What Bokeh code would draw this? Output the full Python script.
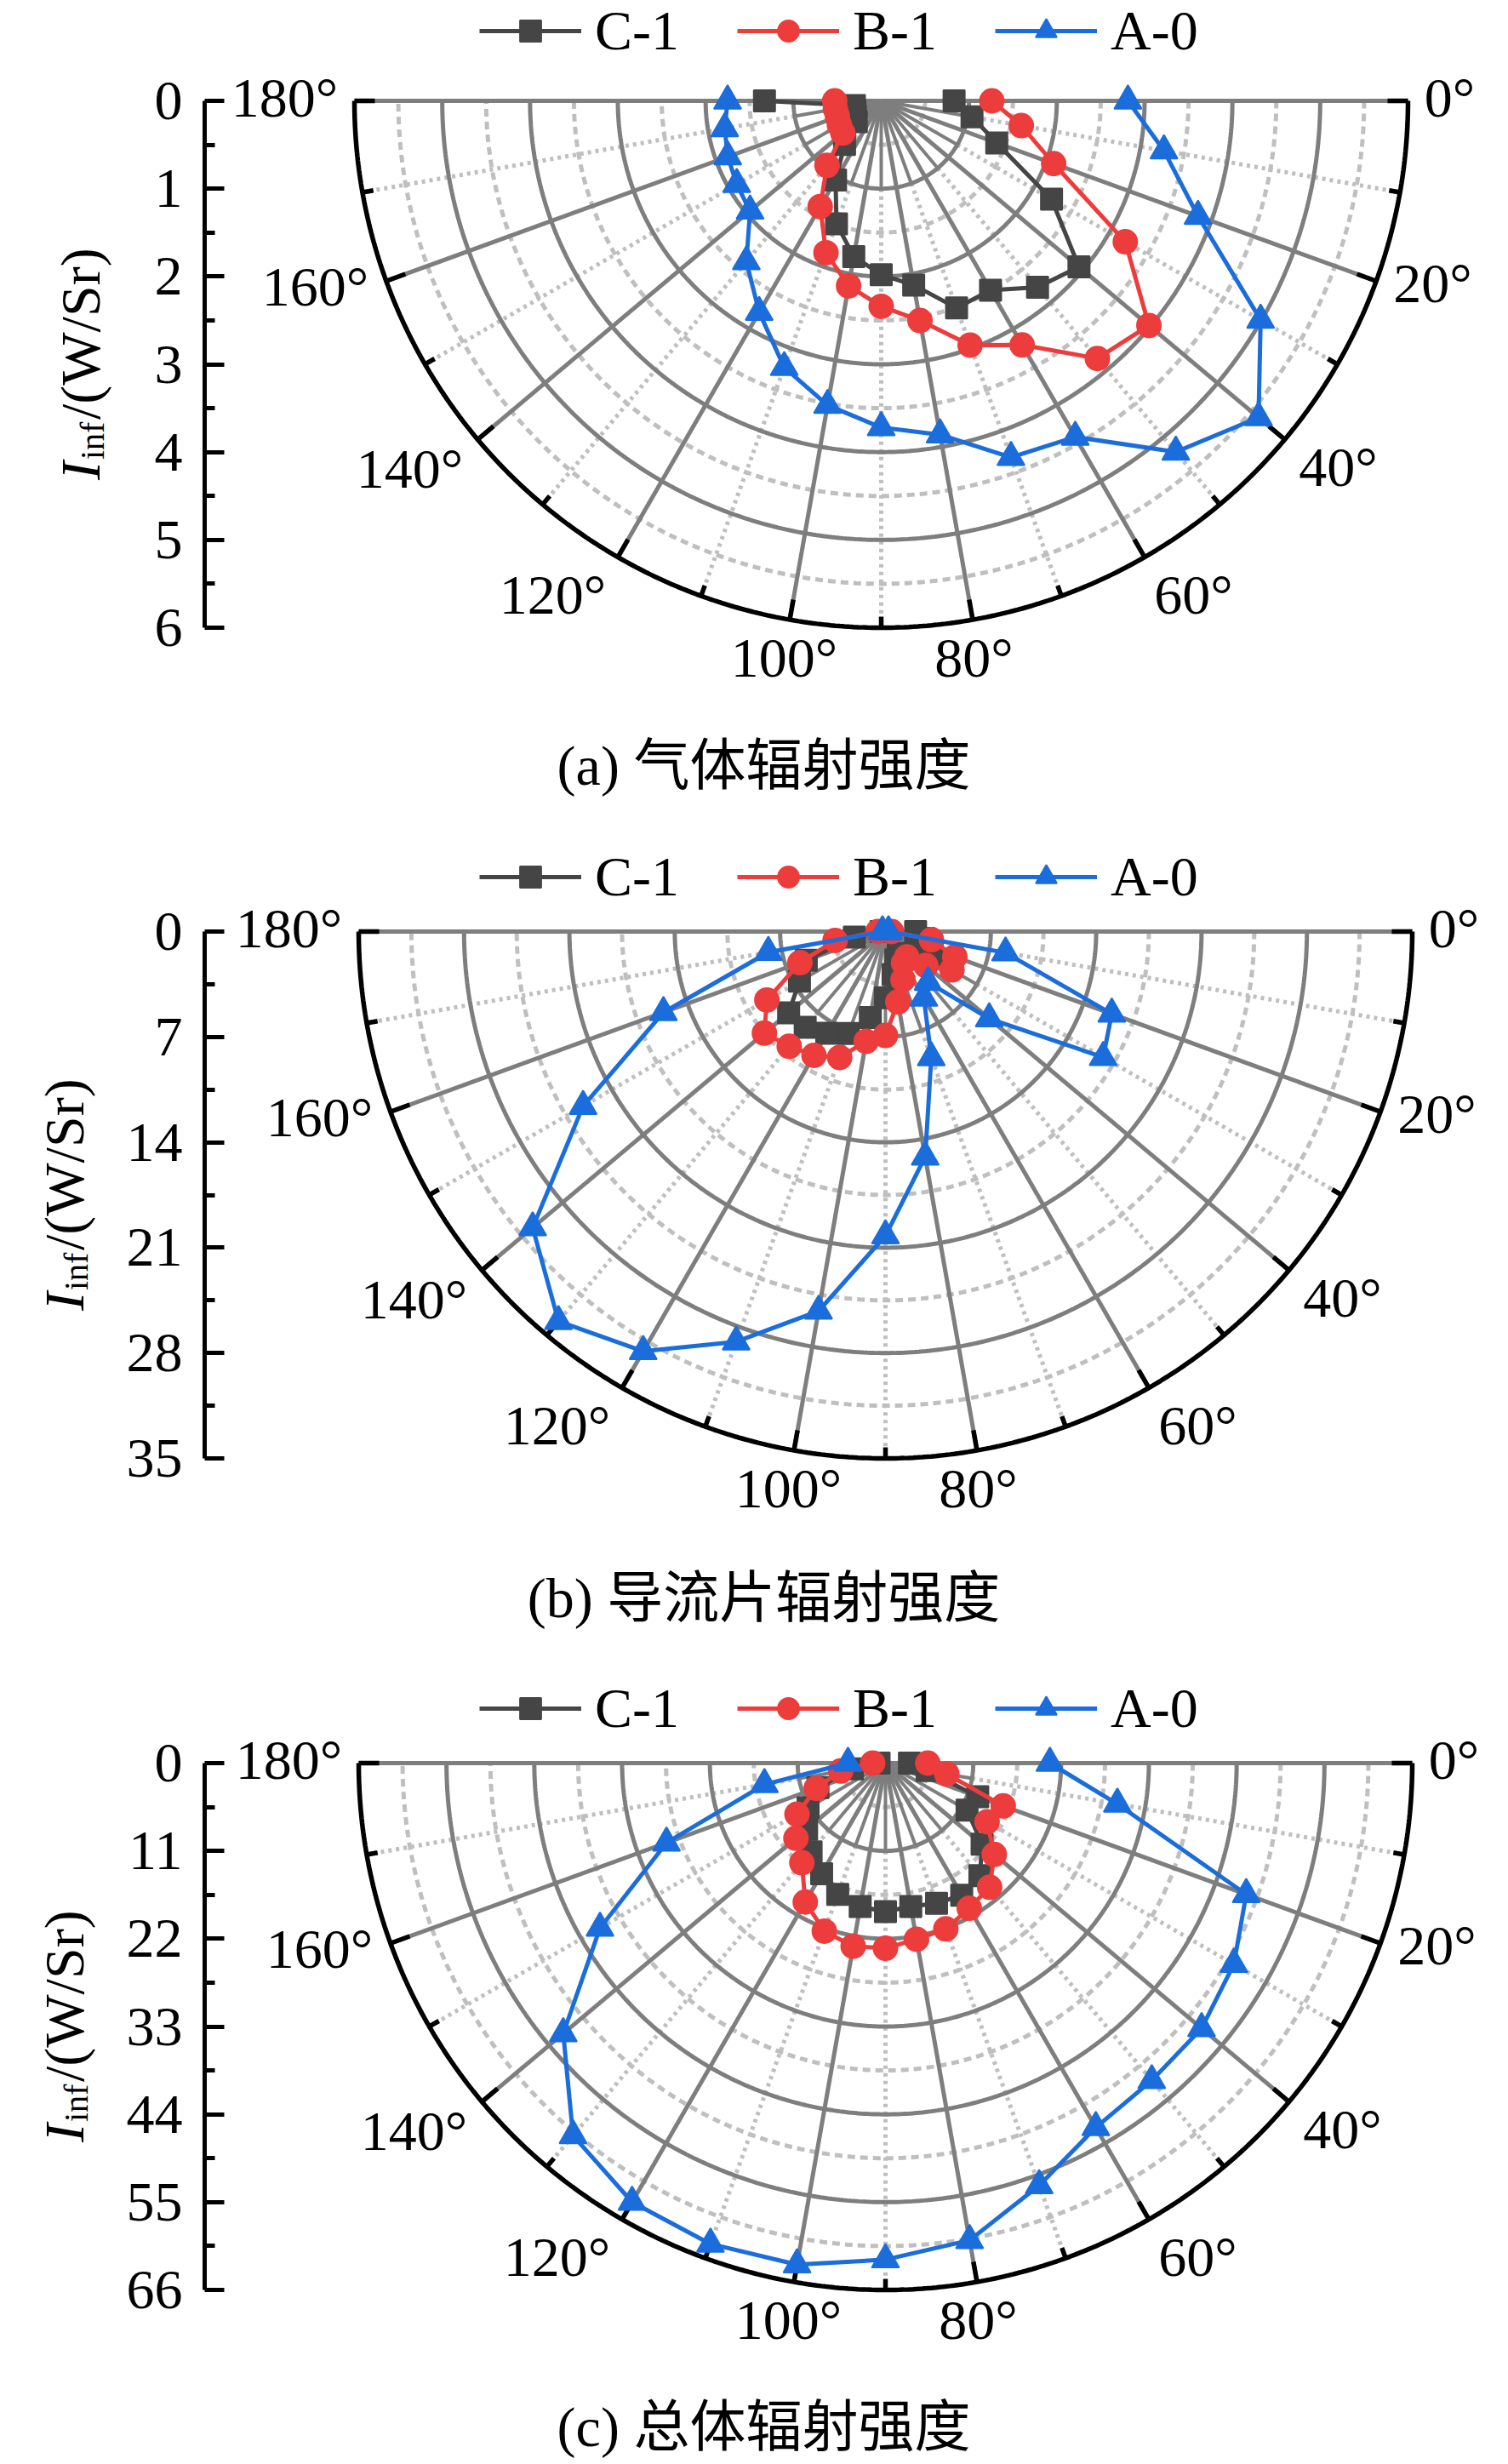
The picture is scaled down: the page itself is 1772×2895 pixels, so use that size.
import numpy as np
from bokeh.plotting import figure
from bokeh.models import Range1d, FixedTicker, Legend, LegendItem, ColumnDataSource
from bokeh.layouts import column, row
from bokeh.embed import file_html
from bokeh.resources import INLINE
from bokeh.core.properties import value

# ---------------- data ----------------
angles_deg = [0, 10, 20, 30, 40, 50, 60, 70, 80, 90, 100, 110, 120, 130, 140, 150, 160, 170, 180]
series_names = ["C-1", "B-1", "A-0"]

# (a) gas radiation intensity, W/Sr
a_C1 = [0.83, 1.05, 1.40, 2.24, 2.94, 2.77, 2.49, 2.51, 2.13, 1.98, 1.80, 1.49, 1.04, 0.65, 0.37, 0.34, 0.32, 0.31, 1.33]
a_B1 = [1.26, 1.62, 2.09, 3.21, 3.98, 3.83, 3.21, 2.96, 2.54, 2.34, 2.14, 1.84, 1.39, 0.96, 0.57, 0.55, 0.53, 0.53, 0.53]
a_A0 = [2.81, 3.27, 3.84, 4.99, 5.61, 5.22, 4.42, 4.32, 3.86, 3.72, 3.52, 3.23, 2.78, 2.39, 1.95, 1.90, 1.86, 1.81, 1.75]
# (b) guide vane radiation intensity
b_C1 = [2.0, 2.6, 3.3, 3.6, 2.6, 1.9, 1.7, 2.0, 2.9, 4.4, 5.8, 7.2, 7.8, 8.3, 8.4, 6.6, 5.6, 2.1, 0.3]
b_B1 = [0.4, 3.1, 4.9, 5.1, 3.5, 2.2, 2.4, 3.4, 4.75, 6.9, 7.4, 8.9, 9.5, 9.95, 10.5, 9.1, 6.05, 3.4, 0.5]
b_A0 = [0.2, 8.1, 16.0, 16.7, 9.0, 4.4, 5.1, 8.9, 15.2, 20.2, 25.6, 29.0, 32.2, 33.8, 30.6, 23.2, 15.7, 7.9, 0.2]
# (c) total radiation intensity
c_C1 = [3.0, 5.3, 12.3, 11.8, 15.8, 18.4, 19.1, 18.7, 18.25, 18.6, 18.25, 17.5, 16.0, 14.5, 12.9, 11.2, 9.0, 4.2, 0.8]
c_B1 = [5.3, 7.8, 15.7, 14.7, 17.8, 20.3, 21.0, 22.1, 22.4, 23.2, 23.3, 22.4, 20.1, 16.3, 14.65, 12.8, 9.24, 5.7, 1.6]
c_A0 = [20.6, 29.5, 48.1, 50.4, 51.7, 51.9, 52.7, 56.3, 60.7, 62.2, 63.8, 64.1, 63.5, 60.9, 52.7, 41.3, 29.2, 15.4, 4.7]

r_ticks_a = [0, 1, 2, 3, 4, 5, 6]
r_ticks_b = [0, 7, 14, 21, 28, 35]
r_ticks_c = [0, 11, 22, 33, 44, 55, 66]

angle_label_deg = [0, 20, 40, 60, 80, 100, 120, 140, 160, 180]
angle_label_txt = ["0°", "20°", "40°", "60°", "80°", "100°", "120°", "140°", "160°", "180°"]

captions = ["(a) 气体辐射强度", "(b) 导流片辐射强度", "(c) 总体辐射强度"]

# ---------------- styles / layout ----------------
colors = {"C-1": "#454545", "B-1": "#ec3c3c", "A-0": "#1b6ddc"}
markers = {"C-1": "square", "B-1": "circle", "A-0": "triangle"}
msize = {"C-1": 25, "B-1": 28, "A-0": 32}

SERIF = "Liberation Serif"
CAP_FONT = "Liberation Serif, Noto Sans CJK SC"
GRID = "#7e7e7e"
LIGHT = "#bfbfbf"

# pixel offsets (from the polar centre) of the angle labels
LABEL_OFF = [(668, -4), (648, 214), (537, 430), (367, 580), (109, 654),
             (-114, 654), (-386, 580), (-554, 432), (-665, 218), (-701, -4)]

PAGE_W = 1772
TITLE_W = 132
AXIS_X = 240.0


def make_title(fig_top, H, cy, R, tx):
    t = figure(width=TITLE_W, height=H, x_range=Range1d(0, TITLE_W),
               y_range=Range1d(-(fig_top + H), -fig_top), output_backend="svg",
               toolbar_location=None, x_axis_location=None, y_axis_location=None,
               min_border_left=0, min_border_right=0, min_border_top=0, min_border_bottom=0)
    t.outline_line_color = None
    t.grid.visible = False
    mid = cy + R / 2
    L = 22 + 2 + 44 + 2 + 202
    y0 = mid + L / 2
    t.text(x=[tx], y=[-y0], text=["I"], text_font=value(SERIF), text_font_style="italic",
           text_font_size="66px", angle=np.pi / 2, text_align="left", text_baseline="middle",
           text_color="black")
    t.text(x=[tx + 14], y=[-(y0 - 24)], text=["inf"], text_font=value(SERIF),
           text_font_size="40px", angle=np.pi / 2, text_align="left", text_baseline="middle",
           text_color="black")
    t.text(x=[tx], y=[-(y0 - 24 - 44 - 3)], text=["/(W/Sr)"], text_font=value(SERIF),
           text_font_size="66px", angle=np.pi / 2, text_align="left", text_baseline="middle",
           text_color="black")
    return t


def make_panel(rticks, vals, caption, fig_top, H, cx, cy, legend_top, cap_off):
    rmax = float(rticks[-1])
    step = float(rticks[1] - rticks[0])
    R = 619.0
    ppu = R / rmax
    left_px, right_px = AXIS_X, float(PAGE_W)
    top_px, bot_px = float(fig_top), float(fig_top + H)
    xr = Range1d((left_px - cx) / ppu, (right_px - cx) / ppu)
    yr = Range1d((bot_px - cy) / ppu, (top_px - cy) / ppu)
    p = figure(width=PAGE_W - TITLE_W, height=H, x_range=xr, y_range=yr,
               output_backend="svg", toolbar_location=None,
               x_axis_location=None, y_axis_location="left",
               min_border_left=int(AXIS_X - TITLE_W), min_border_right=0,
               min_border_top=0, min_border_bottom=0)
    p.outline_line_color = None
    p.grid.visible = False
    p.background_fill_color = "white"
    p.border_fill_color = "white"

    # radial axis
    ax = p.yaxis[0]
    ax.ticker = FixedTicker(ticks=list(rticks), minor_ticks=[t + step / 2 for t in rticks[:-1]])
    ax.bounds = (0, rmax)
    ax.axis_line_width = 5
    ax.axis_line_color = "black"
    ax.major_tick_in = 23
    ax.major_tick_out = 0
    ax.minor_tick_in = 12
    ax.minor_tick_out = 0
    ax.major_tick_line_width = 5
    ax.minor_tick_line_width = 5
    ax.major_tick_line_color = "black"
    ax.minor_tick_line_color = "black"
    ax.major_label_text_font = SERIF
    ax.major_label_text_font_size = "66px"
    ax.major_label_text_color = "black"
    ax.major_label_standoff = 26

    th = np.linspace(0, np.pi, 361)
    half = [t + step / 2 for t in rticks[:-1]]
    p.multi_line([list(h * np.cos(th)) for h in half], [list(h * np.sin(th)) for h in half],
                 line_color=LIGHT, line_width=5, line_dash="9 6")
    odd = np.radians([10, 30, 50, 70, 90, 110, 130, 150, 170])
    p.multi_line([[step * np.cos(a), rmax * np.cos(a)] for a in odd],
                 [[step * np.sin(a), rmax * np.sin(a)] for a in odd],
                 line_color=LIGHT, line_width=5, line_dash="4 5")
    p.multi_line([[0, step * np.cos(a)] for a in odd], [[0, step * np.sin(a)] for a in odd],
                 line_color=GRID, line_width=4)
    full = rticks[1:-1]
    p.multi_line([list(h * np.cos(th)) for h in full], [list(h * np.sin(th)) for h in full],
                 line_color=GRID, line_width=5)
    even = np.radians(list(range(0, 181, 20)))
    p.multi_line([[0, rmax * np.cos(a)] for a in even], [[0, rmax * np.sin(a)] for a in even],
                 line_color=GRID, line_width=5)
    p.line(list(rmax * np.cos(th)), list(rmax * np.sin(th)), line_color="black", line_width=5.5)
    tl_major = 24.0 / ppu
    tl_minor = 13.0 / ppu
    p.multi_line([[(rmax - tl_major) * np.cos(a), rmax * np.cos(a)] for a in even],
                 [[(rmax - tl_major) * np.sin(a), rmax * np.sin(a)] for a in even],
                 line_color="black", line_width=5.5)
    p.multi_line([[(rmax - tl_minor) * np.cos(a), rmax * np.cos(a)] for a in odd],
                 [[(rmax - tl_minor) * np.sin(a), rmax * np.sin(a)] for a in odd],
                 line_color="black", line_width=5.5)

    # angle labels
    lx = [o[0] / ppu for o in LABEL_OFF]
    ly = [o[1] / ppu for o in LABEL_OFF]
    p.text(x=lx, y=ly, text=angle_label_txt, text_font=value(SERIF), text_font_size="66px",
           text_align="center", text_baseline="middle", text_color="black")

    # data series
    thd = np.radians(angles_deg)
    items = []
    for name, v in zip(series_names, vals):
        rr = np.array(v, dtype=float)
        src = ColumnDataSource(dict(x=rr * np.cos(thd), y=rr * np.sin(thd)))
        ln = p.line("x", "y", source=src, line_color=colors[name], line_width=5)
        sc = p.scatter("x", "y", source=src, marker=markers[name], size=msize[name],
                       fill_color=colors[name], line_color=colors[name], line_width=2)
        items.append(LegendItem(label=name, renderers=[ln, sc]))

    legend = Legend(items=items, location=(563 - AXIS_X, H - legend_top - 74),
                    orientation="horizontal",
                    glyph_width=120, glyph_height=62, label_standoff=16, spacing=68,
                    padding=0, margin=0, border_line_color=None, background_fill_alpha=0,
                    label_text_font=SERIF, label_text_font_size="66px", label_text_color="black")
    p.add_layout(legend)

    # caption
    p.text(x=[(897 - cx) / ppu], y=[cap_off / ppu], text=[caption], text_font=value(CAP_FONT),
           text_font_size="66px", text_align="center", text_baseline="middle", text_color="black")
    return p


R_PX = 619.0
H_A, H_B, H_C = 985, 977, 932
TOP_A, TOP_B, TOP_C = 0, H_A, H_A + H_B
ta = make_title(TOP_A, H_A, 118.0, R_PX, 94)
tb = make_title(TOP_B, H_B, 1094.0, R_PX, 75)
tc = make_title(TOP_C, H_C, 2071.0, R_PX, 75)
pa = make_panel(r_ticks_a, [a_C1, a_B1, a_A0], captions[0], TOP_A, H_A, 1035.0, 118.0, 0, 781.0)
pb = make_panel(r_ticks_b, [b_C1, b_B1, b_A0], captions[1], TOP_B, H_B, 1040.0, 1094.0, 9, 783.0)
pc = make_panel(r_ticks_c, [c_C1, c_B1, c_A0], captions[2], TOP_C, H_C, 1040.0, 2071.0, 9, 780.0)

layout = column(row(ta, pa, spacing=0), row(tb, pb, spacing=0), row(tc, pc, spacing=0), spacing=0)
open("out.html", "w").write(file_html(layout, INLINE))
